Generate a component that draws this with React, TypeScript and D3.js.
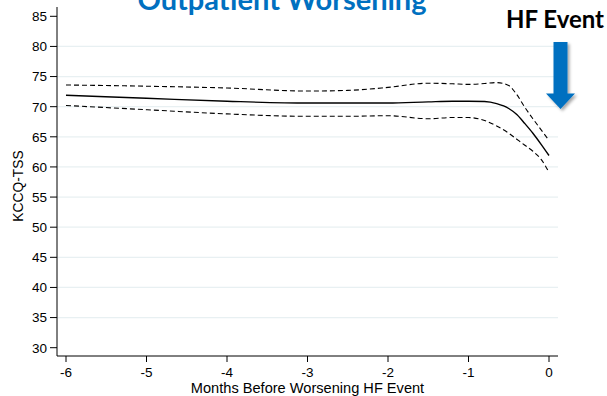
import React from "react";
import * as d3 from "d3";

const months = [-6, -5, -4, -3, -2.5, -2, -1.5, -1.2, -1, -0.8, -0.65, -0.5, -0.4, -0.3, -0.2, -0.1, 0];
const estimate = [71.9, 71.4, 70.9, 70.6, 70.6, 70.6, 70.8, 70.9, 70.9, 70.85, 70.5, 69.7, 68.7, 67.2, 65.6, 63.8, 61.9];
const upper = [73.6, 73.4, 73.1, 72.6, 72.7, 73.2, 73.9, 73.8, 73.7, 73.85, 74.0, 73.5, 72.0, 69.9, 68.0, 66.2, 64.4];
const lower = [70.2, 69.5, 68.8, 68.4, 68.4, 68.5, 68.0, 68.2, 68.2, 67.7, 66.8, 65.6, 64.6, 63.6, 62.6, 61.3, 59.1];

const yTicks = [30, 35, 40, 45, 50, 55, 60, 65, 70, 75, 80, 85];
const gridTicks = [35, 40, 45, 50, 55, 60, 65, 70, 75, 80];
const xTicks = [-6, -5, -4, -3, -2, -1, 0];

const title = "Outpatient Worsening";
const eventLabel = "HF Event";
const xLabel = "Months Before Worsening HF Event";
const yLabel = "KCCQ-TSS";

export default function App() {
  const W = 607, H = 396;
  const x = d3.scaleLinear().domain([-6, 0]).range([66, 549]);
  const y = d3.scaleLinear().domain([30, 85]).range([347.7, 16.3]);
  const axisLeft = 57, axisBottom = 356, axisRight = 558, axisTop = 7;

  const line = d3
    .line<number>()
    .x((_, i) => x(months[i]))
    .y((d) => y(d))
    .curve(d3.curveMonotoneX);

  const blue = "#0070C0";
  const font = "'Liberation Sans', Arial, sans-serif";

  return (
    <svg width={W} height={H} style={{ position: "absolute", left: 0, top: 0, background: "#fff" }}>
      <defs>
        <filter id="sh" x="-50%" y="-50%" width="200%" height="200%">
          <feDropShadow dx="2" dy="2" stdDeviation="1.5" floodColor="#000" floodOpacity="0.35" />
        </filter>
      </defs>
      <rect width={W} height={H} fill="#fff" />
      {gridTicks.map((t) => (
        <line key={t} x1={axisLeft} x2={axisRight} y1={y(t)} y2={y(t)} stroke="#e8f0f2" strokeWidth={1.2} />
      ))}
      <line x1={axisLeft} x2={axisLeft} y1={axisTop} y2={axisBottom} stroke="#000" strokeWidth={1} />
      <line x1={axisLeft} x2={axisRight} y1={axisBottom} y2={axisBottom} stroke="#000" strokeWidth={1} />
      {yTicks.map((t) => (
        <g key={t}>
          <line x1={axisLeft - 7} x2={axisLeft} y1={y(t)} y2={y(t)} stroke="#000" />
          <text x={47} y={y(t)} dy="0.36em" textAnchor="end" fontFamily={font} fontSize={13.5} fill="#000">
            {t}
          </text>
        </g>
      ))}
      {xTicks.map((t) => (
        <g key={t}>
          <line x1={x(t)} x2={x(t)} y1={axisBottom} y2={axisBottom + 6} stroke="#000" />
          <text x={x(t)} y={377} textAnchor="middle" fontFamily={font} fontSize={13.5} fill="#000">
            {t}
          </text>
        </g>
      ))}
      <text x={307.5} y={392.5} textAnchor="middle" fontFamily={font} fontSize={14.6} fill="#000">
        {xLabel}
      </text>
      <text
        transform={`translate(23,186) rotate(-90)`}
        textAnchor="middle"
        fontFamily={font}
        fontSize={13.8}
        fill="#000"
      >
        {yLabel}
      </text>

      <path d={line(upper) || ""} fill="none" stroke="#000" strokeWidth={1.1} strokeDasharray="5,3" />
      <path d={line(lower) || ""} fill="none" stroke="#000" strokeWidth={1.1} strokeDasharray="5,3" />
      <path d={line(estimate) || ""} fill="none" stroke="#000" strokeWidth={1.4} />

      <text x={282} y={10} textAnchor="middle" fontFamily="Lato, 'Open Sans', sans-serif" fontWeight="bold" fontSize={29} fill={blue}>
        {title}
      </text>
      <text x={555} y={28} textAnchor="middle" fontFamily="Lato, 'Open Sans', sans-serif" fontWeight="bold" fontSize={24} fill="#000">
        {eventLabel}
      </text>
      <path
        d="M553.5,42 L567.5,42 L567.5,93.5 L575,93.5 L560.5,109 L546,93.5 L553.5,93.5 Z"
        fill={blue}
        filter="url(#sh)"
      />
    </svg>
  );
}
